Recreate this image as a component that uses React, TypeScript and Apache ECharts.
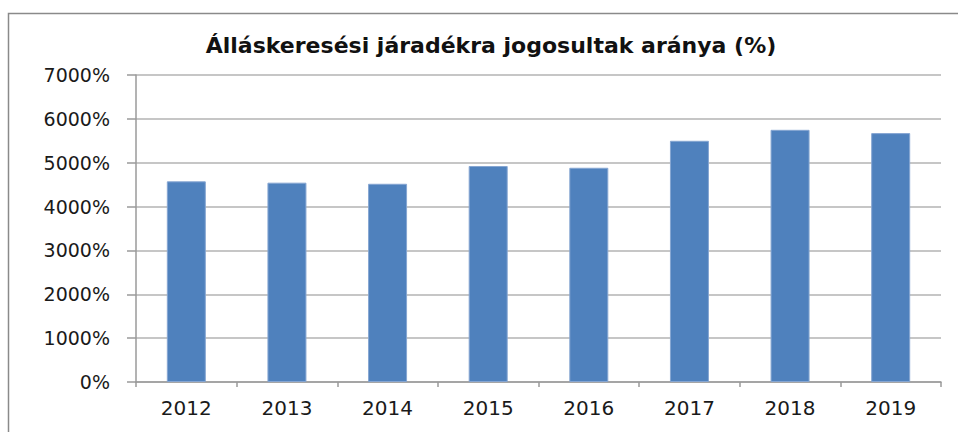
import React, { useEffect, useRef } from "react";
import * as echarts from "echarts";

const titleText = "Álláskeresési járadékra jogosultak aránya (%)";
const categories = ["2012", "2013", "2014", "2015", "2016", "2017", "2018", "2019"];
const values = [4575, 4545, 4520, 4925, 4885, 5500, 5750, 5675];
const yMin = 0;
const yMax = 7000;
const yInterval = 1000;

export default function App() {
  const ref = useRef<HTMLDivElement>(null);
  useEffect(() => {
    document.body.style.margin = "0";
    const chart = echarts.init(ref.current!, undefined, { renderer: "svg" });
    chart.setOption({
      animation: false,
      backgroundColor: "#ffffff",
      title: {
        text: titleText,
        left: 486,
        textAlign: "center",
        top: 29,
        textStyle: {
          fontFamily: "DejaVu Sans",
          fontWeight: "bold",
          fontSize: 22,
          color: "#111111",
        },
      },
      graphic: [
        {
          type: "rect",
          shape: { x: 8.5, y: 13.5, width: 1000, height: 600 },
          style: { fill: "none", stroke: "#8a8a8a", lineWidth: 1.5 },
          silent: true,
        },
      ],
      grid: { left: 136, right: 17, top: 75, bottom: 50, containLabel: false },
      xAxis: {
        type: "category",
        data: categories,
        axisLine: { lineStyle: { color: "#9a9a9a", width: 1.5 } },
        axisTick: { show: true, length: 5, alignWithLabel: false, lineStyle: { color: "#9a9a9a", width: 1.5 } },
        axisLabel: {
          margin: 16,
          fontFamily: "DejaVu Sans",
          fontSize: 20,
          color: "#1a1a1a",
        },
      },
      yAxis: {
        type: "value",
        min: yMin,
        max: yMax,
        interval: yInterval,
        axisLine: { show: true, lineStyle: { color: "#9a9a9a", width: 1.5 } },
        axisTick: { show: true, length: 9, lineStyle: { color: "#9a9a9a", width: 1.5 } },
        splitLine: { lineStyle: { color: "#c6c6c6", width: 2 } },
        axisLabel: {
          margin: 26,
          formatter: (v: number) => v + "%",
          fontFamily: "DejaVu Sans",
          fontSize: 19,
          color: "#1a1a1a",
        },
      },
      series: [
        {
          type: "bar",
          data: values,
          barWidth: 39,
          itemStyle: { color: "#4f81bd", borderColor: "#86a6d2", borderWidth: 1 },
        },
      ],
    });
    return () => chart.dispose();
  }, []);
  return <div ref={ref} style={{ position: "absolute", left: 0, top: 0, width: 958, height: 432 }} />;
}
